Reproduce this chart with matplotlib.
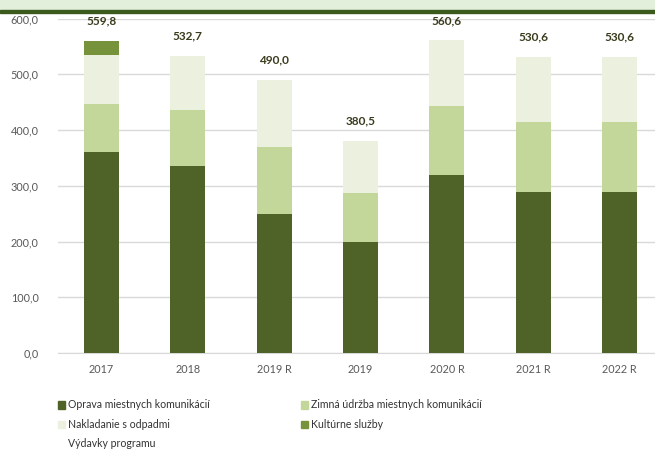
import matplotlib
matplotlib.use('Agg')
import matplotlib.pyplot as plt
import matplotlib.patches as mpatches
from matplotlib.lines import Line2D
import numpy as np

plt.rcParams['font.family'] = ['Lato', 'DejaVu Sans']

years = ['2017', '2018', '2019 R', '2019', '2020 R', '2021 R', '2022 R']
oprava = [361.0, 335.5, 250.0, 200.0, 319.0, 288.0, 288.0]
zimna = [85.0, 100.0, 119.0, 86.7, 124.0, 126.5, 126.5]
odpady = [88.0, 97.2, 121.0, 93.8, 117.6, 116.1, 116.1]
kultura = [25.8, 0.0, 0.0, 0.0, 0.0, 0.0, 0.0]
totals = [559.8, 532.7, 490.0, 380.5, 560.6, 530.6, 530.6]

series_names = ['Oprava miestnych komunikácií', 'Zimná údržba miestnych komunikácií',
                'Nakladanie s odpadmi', 'Kultúrne služby']
colors = ['#4f6228', '#c4d79b', '#ebf1de', '#76933c']

fig = plt.figure(figsize=(6.55, 4.55), dpi=100)

# header band (title cut off in the source)
fig.patches.append(mpatches.Rectangle((0, 1 - 9.5/455), 1, 9.5/455, transform=fig.transFigure,
                                      color='#e2efda', zorder=0))
fig.patches.append(mpatches.Rectangle((0, 1 - 12.5/455), 1, 3/455, transform=fig.transFigure,
                                      color='#3a5a1e', zorder=0))

ax = fig.add_axes([58/655, 102/455, 605/655, 334.5/455])
x = np.arange(len(years))
w = 0.405
bottom = np.zeros(len(years))
for vals, c in zip([oprava, zimna, odpady, kultura], colors):
    ax.bar(x, vals, w, bottom=bottom, color=c, zorder=3, linewidth=0)
    bottom += np.array(vals)

for xi, t in zip(x, totals):
    ax.annotate(f"{t:.1f}".replace('.', ','), (xi, t), xytext=(0, 20), textcoords='offset pixels',
                ha='center', va='center', fontsize=8.5, fontweight='bold', color='#3a3a1c')

ax.set_xlim(-0.5, len(years) - 0.5)
ax.set_ylim(0, 600)
ax.set_yticks(np.arange(0, 601, 100))
ax.set_yticklabels([f"{v},0" for v in range(0, 601, 100)])
ax.set_xticks(x)
ax.set_xticklabels(years)
ax.grid(axis='y', color='#d9d9d9', linewidth=1, zorder=0)
for s in ['top', 'right', 'left']:
    ax.spines[s].set_visible(False)
ax.spines['bottom'].set_color('#d9d9d9')
ax.tick_params(axis='y', length=0, pad=14, labelsize=7.8, labelcolor='#595959')
ax.tick_params(axis='x', length=0, pad=8, labelsize=7.8, labelcolor='#595959')

handles = [mpatches.Patch(color=colors[0], label=series_names[0]),
           mpatches.Patch(color=colors[2], label=series_names[2]),
           Line2D([], [], color='none', label='Výdavky programu'),
           mpatches.Patch(color=colors[1], label=series_names[1]),
           mpatches.Patch(color=colors[3], label=series_names[3])]
fig.legend(handles=handles, ncol=2, loc='upper left', bbox_to_anchor=(48/655, 1 - 390/455),
           frameon=False, fontsize=7.6, handlelength=0.7, handleheight=0.7, handletextpad=0.3,
           labelspacing=0.8, columnspacing=8.6, labelcolor='#333333')

plt.savefig('out.png', dpi=100)
plt.close()
